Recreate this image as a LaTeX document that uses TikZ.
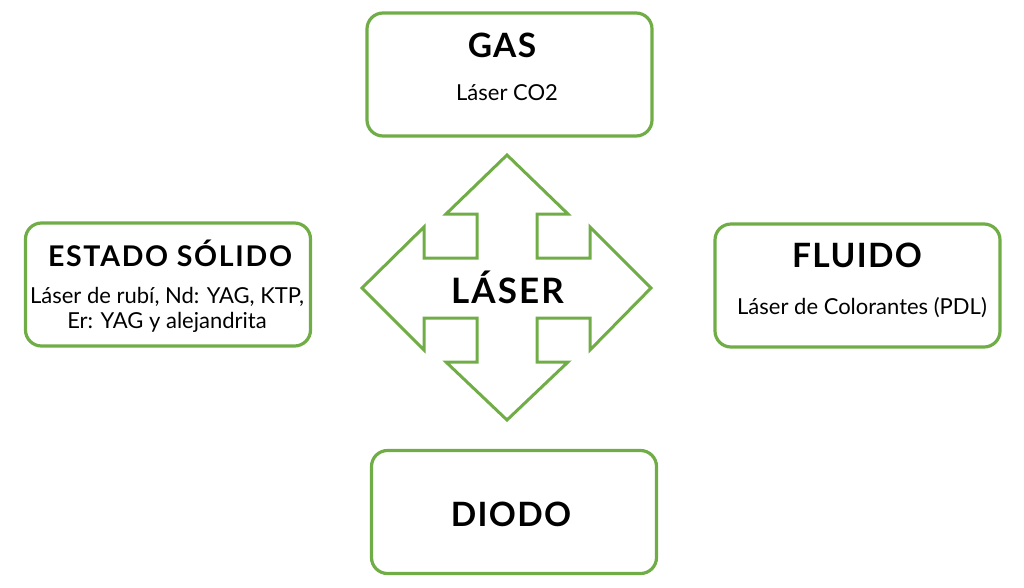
\documentclass[tikz,border=0pt]{standalone}
\usepackage{fontspec}
\setmainfont{Lato}
\usetikzlibrary{positioning}
\definecolor{leaf}{HTML}{70AD47}
\tikzset{
  kindbox/.style={draw=leaf,line width=3.2pt,rounded corners=16pt,minimum width=285pt,minimum height=123pt,inner sep=0pt},
  kindtitle/.style={anchor=base,font=\fontsize{33.5}{36}\selectfont\bfseries\addfontfeatures{LetterSpace=4}},
  kindsub/.style={anchor=base,align=center,font=\fontsize{22}{25}\selectfont},
}
\begin{document}
\begin{tikzpicture}[x=1pt,y=-1pt]
\useasboundingbox (0,0) rectangle (1024,587);
% the four boxes
\node[kindbox] (gas) at (509.5,74.5) {};
\node[kindbox] (solid) at (168,284.5) {};
\node[kindbox] (fluid) at (857.5,285.5) {};
\node[kindbox] (diode) at (514,512) {};
% their texts
\node[kindtitle] (gastitle) at (502,57) {GAS};
\node[kindsub] (gassub) at (507,100) {Láser CO2};
\node[kindtitle,font=\fontsize{28.5}{30}\selectfont\bfseries\addfontfeatures{LetterSpace=6}] (solidtitle) at (170,266) {ESTADO SÓLIDO};
\node[kindsub] (solidsub) at (167,328) {Láser de rubí, Nd: YAG, KTP,\\Er: YAG y alejandrita};
\node[kindtitle] (fluidtitle) at (857,267) {FLUIDO};
\node[kindsub] (fluidsub) at (862,314) {Láser de Colorantes (PDL)};
\node[kindtitle] (diodetitle) at (511,526) {DIODO};
% the cross of arrows
\draw[leaf,line width=3pt,line join=miter]
  (507,155) -- (568,214) -- (537,214) -- (537,258) -- (590,258) -- (590,227)
  -- (651,288) -- (590,350) -- (590,318) -- (537,318) -- (537,362) -- (568,362)
  -- (507,420) -- (446,362) -- (477,362) -- (477,318) -- (424,318) -- (424,350)
  -- (362,288) -- (424,227) -- (424,258) -- (477,258) -- (477,214) -- (446,214) -- cycle;
\node[kindtitle,font=\fontsize{35}{38}\selectfont\bfseries\addfontfeatures{LetterSpace=6}] (laser) at (507.5,303) {LÁSER};
\end{tikzpicture}
\end{document}
